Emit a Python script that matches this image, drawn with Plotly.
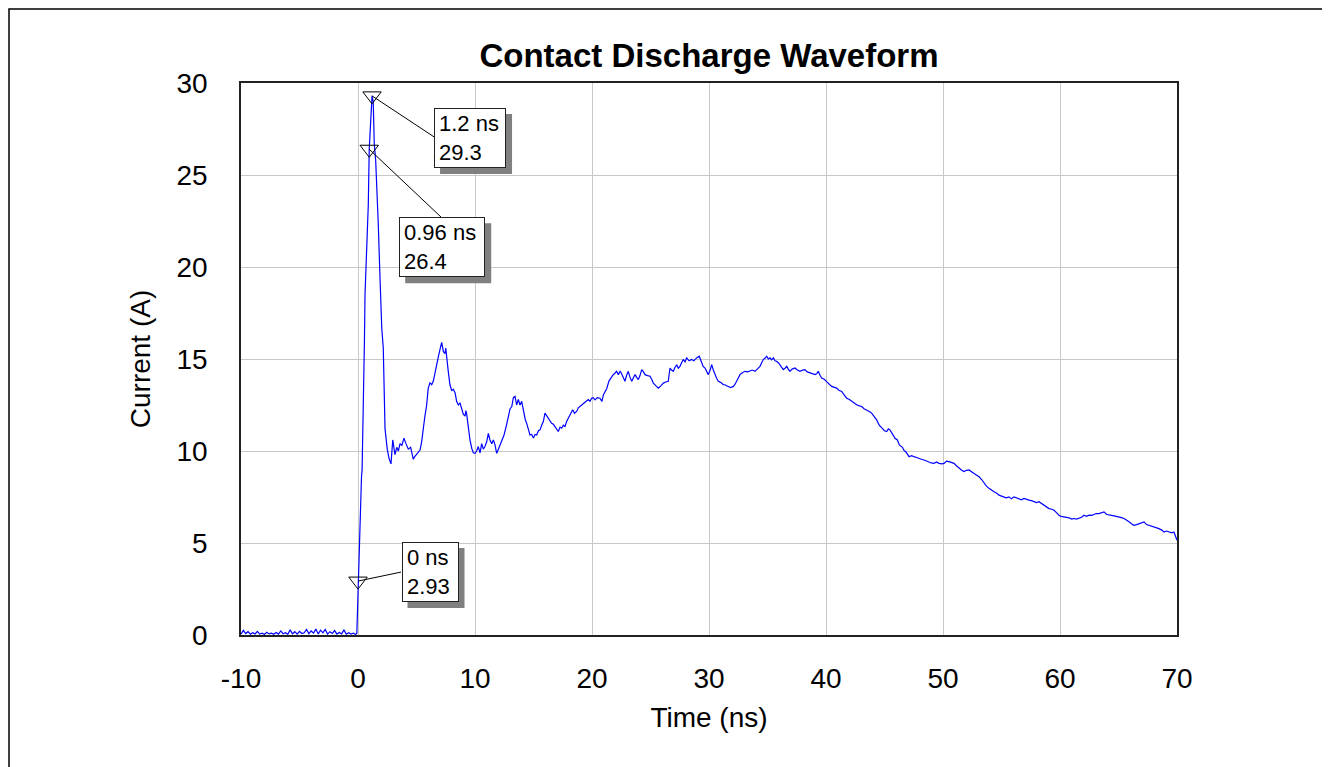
import plotly.graph_objects as go

# ---- data ----
time_ns = [
    -10.0, -9.8, -9.6, -9.4, -9.2, -9.0, -8.8, -8.6, -8.4, -8.2,
    -8.0, -7.8, -7.6, -7.4, -7.2, -7.0, -6.8, -6.6, -6.4, -6.2,
    -6.0, -5.8, -5.6, -5.4, -5.2, -5.0, -4.8, -4.6, -4.4, -4.2,
    -4.0, -3.8, -3.6, -3.4, -3.2, -3.0, -2.8, -2.6, -2.4, -2.2,
    -2.0, -1.8, -1.6, -1.4, -1.2, -1.0, -0.8, -0.6, -0.4, -0.2,
    -0.1, -0.05, 0.0, 0.1, 0.2, 0.25, 0.3, 0.35, 0.4, 0.46,
    0.55, 0.6, 0.74, 0.88, 0.96, 1.09, 1.2, 1.3, 1.39, 1.51,
    1.6, 1.74, 1.88, 1.96, 2.03, 2.16, 2.31, 2.5, 2.65, 2.82,
    2.97, 3.16, 3.31, 3.45, 3.59, 3.75, 3.93, 4.1, 4.3, 4.5,
    4.6, 4.73, 4.85, 5.0, 5.15, 5.3, 5.44, 5.58, 5.72, 5.87,
    6.0, 6.15, 6.3, 6.44, 6.58, 6.72, 6.86, 7.0, 7.15, 7.3,
    7.44, 7.5, 7.58, 7.72, 7.86, 8.0, 8.15, 8.3, 8.43, 8.57,
    8.72, 8.86, 9.0, 9.15, 9.22, 9.29, 9.43, 9.57, 9.72, 9.86,
    10.0, 10.14, 10.28, 10.43, 10.57, 10.71, 10.85, 11.0, 11.14, 11.28,
    11.43, 11.57, 11.71, 11.85, 12.0, 12.14, 12.3, 12.48, 12.65, 12.85,
    13.0, 13.14, 13.28, 13.42, 13.56, 13.7, 13.85, 13.99, 14.19, 14.3,
    14.42, 14.56, 14.7, 14.85, 14.99, 15.13, 15.27, 15.42, 15.56, 15.7,
    15.84, 15.98, 16.13, 16.27, 16.41, 16.55, 16.7, 16.84, 16.98, 17.12,
    17.27, 17.41, 17.55, 17.69, 17.83, 17.97, 18.15, 18.35, 18.5, 18.69,
    18.83, 18.97, 19.15, 19.32, 19.5, 19.68, 19.83, 19.97, 20.1, 20.26,
    20.45, 20.68, 20.85, 20.97, 21.1, 21.26, 21.45, 21.6, 21.75, 21.97,
    22.1, 22.25, 22.4, 22.5, 22.68, 22.82, 22.95, 23.1, 23.25, 23.4,
    23.55, 23.68, 23.82, 23.96, 24.1, 24.25, 24.4, 24.53, 24.75, 24.96,
    25.1, 25.24, 25.45, 25.67, 25.9, 26.1, 26.3, 26.52, 26.6, 26.67,
    26.8, 26.95, 27.1, 27.24, 27.38, 27.52, 27.66, 27.8, 27.95, 28.09,
    28.3, 28.52, 28.7, 28.94, 29.17, 29.37, 29.5, 29.66, 29.8, 29.94,
    30.1, 30.23, 30.37, 30.51, 30.65, 30.8, 30.94, 31.08, 31.22, 31.37,
    31.5, 31.65, 31.85, 32.08, 32.2, 32.36, 32.5, 32.65, 32.85, 33.08,
    33.3, 33.5, 33.7, 33.93, 34.15, 34.36, 34.5, 34.64, 34.8, 34.93,
    35.07, 35.21, 35.35, 35.5, 35.64, 35.78, 35.93, 36.07, 36.2, 36.35,
    36.5, 36.64, 36.78, 36.92, 37.1, 37.35, 37.55, 37.78, 38.0, 38.2,
    38.4, 38.63, 38.85, 39.06, 39.2, 39.34, 39.5, 39.63, 39.85, 40.06,
    40.25, 40.48, 40.7, 40.91, 41.1, 41.34, 41.55, 41.77, 42.0, 42.2,
    42.4, 42.62, 42.85, 43.05, 43.25, 43.48, 43.7, 43.9, 44.1, 44.33,
    44.55, 44.76, 45.0, 45.19, 45.33, 45.47, 45.7, 45.9, 46.1, 46.27,
    46.53, 46.7, 46.81, 47.0, 47.1, 47.3, 47.52, 47.75, 47.95, 48.15,
    48.38, 48.6, 48.8, 49.0, 49.23, 49.45, 49.66, 49.9, 50.09, 50.3,
    50.51, 50.7, 50.94, 51.15, 51.37, 51.6, 51.79, 52.0, 52.22, 52.45,
    52.65, 52.85, 53.08, 53.3, 53.5, 53.7, 53.93, 54.15, 54.36, 54.6,
    54.79, 55.0, 55.21, 55.4, 55.64, 55.85, 56.07, 56.3, 56.5, 56.7,
    56.92, 57.15, 57.35, 57.55, 57.78, 58.0, 58.2, 58.4, 58.63, 58.85,
    59.06, 59.25, 59.49, 59.7, 59.91, 60.1, 60.34, 60.55, 60.77, 61.0,
    61.2, 61.4, 61.62, 61.85, 62.05, 62.25, 62.48, 62.7, 62.9, 63.1,
    63.33, 63.55, 63.76, 64.0, 64.19, 64.4, 64.62, 64.85, 65.04, 65.25,
    65.47, 65.7, 65.9, 66.1, 66.32, 66.55, 66.75, 66.95, 67.18, 67.4,
    67.61, 67.8, 68.03, 68.25, 68.46, 68.7, 68.89, 69.1, 69.32, 69.55,
    69.74, 69.9, 70.0,
]
current_a = [
    0.05, 0.25, 0.08, 0.18, 0.04, 0.12, 0.06, 0.2, 0.05, 0.1,
    0.03, 0.15, 0.06, 0.1, 0.04, 0.14, 0.05, 0.22, 0.07, 0.12,
    0.04, 0.28, 0.06, 0.18, 0.05, 0.2, 0.08, 0.12, 0.3, 0.07,
    0.22, 0.1, 0.32, 0.06, 0.26, 0.12, 0.3, 0.05, 0.18, 0.08,
    0.24, 0.05, 0.14, 0.06, 0.28, 0.04, 0.12, 0.05, 0.1, 0.03,
    0.1, 1.2, 2.93, 4.5, 7.0, 8.5, 8.6, 9.0, 10.5, 11.8,
    16.0, 18.5, 20.5, 23.4, 26.4, 28.5, 29.3, 29.0, 26.7, 25.8,
    24.5, 22.2, 19.4, 18.0, 16.7, 15.6, 11.2, 10.1, 9.6, 9.3,
    10.6, 9.8, 10.2, 10.0, 10.4, 10.3, 10.7, 10.4, 10.1, 10.2,
    9.9, 9.55, 9.7, 9.8, 9.9, 10.05, 10.5, 11.3, 11.9, 12.5,
    13.4, 13.7, 13.6, 13.8, 14.3, 14.7, 15.1, 15.5, 15.9, 15.4,
    15.3, 15.6, 15.05, 14.3, 13.6, 13.3, 13.35, 13.15, 12.7, 12.5,
    12.6, 12.3, 12.0, 11.9, 12.2, 12.0, 11.2, 10.6, 10.15, 9.9,
    9.87, 10.0, 10.24, 9.9, 10.4, 10.1, 10.24, 10.5, 10.96, 10.6,
    10.4, 10.6, 10.33, 9.87, 10.1, 10.33, 10.5, 10.87, 11.3, 11.8,
    12.3, 12.4, 12.9, 12.97, 12.5, 12.8, 12.5, 12.7, 12.0, 11.7,
    11.5, 11.2, 10.87, 10.9, 10.7, 10.9, 10.87, 11.1, 11.15, 11.4,
    11.6, 12.06, 11.9, 11.8, 11.6, 11.5, 11.45, 11.33, 11.2, 11.06,
    11.3, 11.24, 11.4, 11.33, 11.6, 11.8, 12.0, 12.24, 12.05, 12.15,
    12.35, 12.42, 12.5, 12.6, 12.7, 12.8, 12.7, 12.87, 12.9, 12.78,
    12.9, 12.87, 12.7, 13.05, 13.2, 13.4, 13.8, 13.97, 14.1, 14.24,
    14.33, 14.15, 14.33, 14.24, 13.97, 13.79, 14.1, 14.33, 14.0, 13.79,
    14.0, 14.15, 14.0, 13.88, 14.1, 14.42, 14.3, 14.15, 14.1, 14.06,
    13.9, 13.69, 13.55, 13.42, 13.55, 13.69, 13.75, 13.79, 14.2, 14.5,
    14.4, 14.33, 14.55, 14.69, 14.5, 14.6, 14.8, 14.97, 14.85, 15.06,
    14.9, 14.97, 14.9, 15.06, 15.15, 14.78, 14.6, 14.51, 14.3, 14.15,
    14.4, 14.69, 14.4, 14.15, 13.95, 13.79, 13.75, 13.69, 13.6, 13.6,
    13.55, 13.51, 13.45, 13.51, 13.6, 13.79, 13.95, 14.15, 14.25, 14.33,
    14.3, 14.33, 14.4, 14.33, 14.45, 14.6, 14.8, 14.97, 15.05, 15.15,
    15.0, 15.06, 14.95, 15.06, 14.9, 14.88, 14.8, 14.69, 14.55, 14.42,
    14.5, 14.6, 14.45, 14.33, 14.45, 14.51, 14.4, 14.33, 14.4, 14.42,
    14.3, 14.24, 14.2, 14.15, 14.2, 14.33, 14.1, 13.97, 13.9, 13.79,
    13.65, 13.51, 13.45, 13.42, 13.3, 13.24, 13.05, 12.87, 12.8, 12.7,
    12.6, 12.51, 12.45, 12.42, 12.3, 12.24, 12.15, 12.06, 11.9, 11.69,
    11.4, 11.24, 11.1, 11.06, 11.2, 11.15, 10.9, 10.69, 10.6, 10.33,
    10.2, 10.0, 9.97, 9.75, 9.69, 9.75, 9.69, 9.65, 9.6, 9.55,
    9.51, 9.45, 9.42, 9.35, 9.33, 9.4, 9.33, 9.3, 9.33, 9.45,
    9.42, 9.38, 9.33, 9.2, 9.06, 8.95, 8.88, 8.95, 8.97, 8.85,
    8.78, 8.7, 8.6, 8.45, 8.24, 8.1, 7.97, 7.9, 7.79, 7.7,
    7.6, 7.55, 7.51, 7.45, 7.51, 7.4, 7.51, 7.45, 7.42, 7.35,
    7.42, 7.35, 7.33, 7.3, 7.24, 7.2, 7.24, 7.15, 7.05, 6.95,
    6.87, 6.85, 6.78, 6.65, 6.51, 6.45, 6.42, 6.4, 6.37, 6.3,
    6.33, 6.3, 6.33, 6.4, 6.51, 6.45, 6.51, 6.5, 6.55, 6.6,
    6.6, 6.65, 6.69, 6.55, 6.51, 6.5, 6.47, 6.45, 6.42, 6.38,
    6.33, 6.25, 6.15, 6.05, 5.96, 6.0, 6.05, 6.1, 6.15, 6.0,
    5.96, 5.92, 5.88, 5.85, 5.78, 5.7, 5.6, 5.65, 5.6, 5.55,
    5.6, 5.35, 5.15,
]

marker_t = [0.0, 0.96, 1.2]
marker_i = [2.93, 26.4, 29.3]
marker_labels = ["0 ns<br>2.93", "0.96 ns<br>26.4", "1.2 ns<br>29.3"]

x_tick_vals = [-10, 0, 10, 20, 30, 40, 50, 60, 70]
x_tick_text = ["-10", "0", "10", "20", "30", "40", "50", "60", "70"]
y_tick_vals = [0, 5, 10, 15, 20, 25, 30]
y_tick_text = ["0", "5", "10", "15", "20", "25", "30"]

# ---- layout constants (pixels); page body adds an 8px offset ----
FONT = "Liberation Sans, Arial, sans-serif"
OFF = 8
W, H = 1330 - OFF, 767 - OFF
ML, MT = 241 - OFF, 83 - OFF
PW, PH = 936, 552
MR, MB = W - ML - PW, H - MT - PH

# box centre offsets (dx right, dy down), box text sizes, leader-line ends
box_offsets = [(72, -9), (73, 98), (98, 42)]
box_sizes = [(47, 50), (76, 50), (62, 50)]
BPAD, BW = 4, 1
line_ends = [(43, -9), (72, 68), (62, 41)]
SHADOW = 6

# outer frame edges in figure pixels
FRAME_L, FRAME_T, FRAME_R, FRAME_B = 1, 1, 1315, H + 20

fig = go.Figure()
fig.add_trace(go.Scatter(
    x=time_ns, y=current_a, mode="lines",
    line=dict(color="#0000ff", width=1.2), hoverinfo="skip", showlegend=False,
))
fig.add_trace(go.Scatter(
    x=marker_t, y=marker_i, mode="markers",
    marker=dict(symbol="triangle-down-open", size=16, color="black",
                line=dict(color="black", width=1)),
    showlegend=False, hoverinfo="skip",
))

shapes = []
shapes.append(dict(type="rect", xref="paper", yref="paper",
                   x0=(FRAME_L - ML) / PW, x1=(FRAME_R - ML) / PW,
                   y0=(MT + PH - FRAME_B) / PH, y1=(MT + PH - FRAME_T) / PH,
                   line=dict(color="black", width=1.5), fillcolor="rgba(0,0,0,0)",
                   layer="above"))
for (t, i, (lx, ly)) in zip(marker_t, marker_i, line_ends):
    shapes.append(dict(type="line", xref="x", yref="y",
                       xsizemode="pixel", ysizemode="pixel",
                       xanchor=t, yanchor=i, x0=0, y0=0, x1=lx, y1=-ly,
                       line=dict(color="black", width=1)))
for (t, i, (dx, dy), (bw, bh)) in zip(marker_t, marker_i, box_offsets, box_sizes):
    ow, oh = bw + 2 * (BPAD + BW), bh + 2 * (BPAD + BW)
    shapes.append(dict(type="rect", xref="x", yref="y",
                       xsizemode="pixel", ysizemode="pixel",
                       xanchor=t, yanchor=i,
                       x0=dx - ow / 2 + SHADOW, x1=dx + ow / 2 + SHADOW,
                       y0=-(dy - oh / 2 + SHADOW), y1=-(dy + oh / 2 + SHADOW),
                       line=dict(width=0), fillcolor="#808080"))

annotations = []
for (t, i, txt, (dx, dy), (bw, bh)) in zip(marker_t, marker_i, marker_labels,
                                          box_offsets, box_sizes):
    annotations.append(dict(x=t, y=i, xref="x", yref="y", text=txt, showarrow=False,
                            xshift=dx, yshift=-dy, align="left",
                            width=bw, height=bh,
                            font=dict(family=FONT, size=22, color="black"),
                            bgcolor="white", bordercolor="#222222", borderwidth=BW,
                            borderpad=BPAD))

fig.update_layout(
    width=W, height=H,
    margin=dict(l=ML, r=MR, t=MT, b=MB),
    paper_bgcolor="white", plot_bgcolor="white",
    font=dict(family=FONT, color="black"),
    title=dict(text="<b>Contact Discharge Waveform</b>",
               font=dict(family=FONT, size=33, color="black"),
               x=(ML + PW / 2) / W, xanchor="center",
               y=1 - (55 - OFF) / H, yanchor="middle", yref="container"),
    shapes=shapes, annotations=annotations,
    xaxis=dict(range=[-10, 70], tickvals=x_tick_vals, ticktext=x_tick_text,
               showgrid=True, gridcolor="#c8c8c8", gridwidth=1,
               showline=True, linecolor="#222222", linewidth=1.5, mirror=True,
               ticks="outside", ticklen=18, tickcolor="white",
               tickfont=dict(family=FONT, size=28, color="black"),
               title=dict(text="Time (ns)", font=dict(family=FONT, size=28, color="black"),
                          standoff=14),
               zeroline=False),
    yaxis=dict(range=[0, 30], tickvals=y_tick_vals, ticktext=y_tick_text,
               showgrid=True, gridcolor="#c8c8c8", gridwidth=1,
               showline=True, linecolor="#222222", linewidth=1.5, mirror=True,
               ticks="outside", ticklen=26, tickcolor="white",
               tickfont=dict(family=FONT, size=28, color="black"),
               title=dict(text="Current (A)", font=dict(family=FONT, size=28, color="black"),
                          standoff=18),
               zeroline=False),
)

fig.write_html("out.html")
